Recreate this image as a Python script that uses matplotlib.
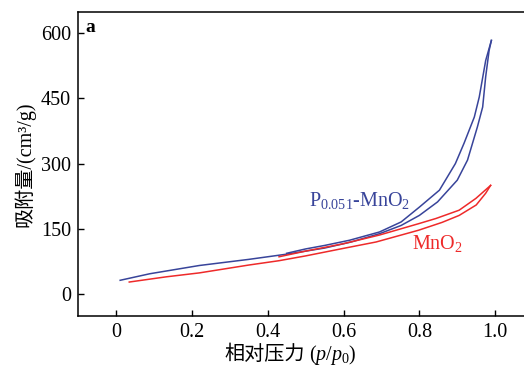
import matplotlib
matplotlib.use('Agg')
import matplotlib.pyplot as plt

plt.rcParams['font.family'] = ['Liberation Serif', 'Noto Sans CJK SC']
plt.rcParams['mathtext.fontset'] = 'custom'
plt.rcParams['mathtext.rm'] = 'Liberation Serif'
plt.rcParams['mathtext.it'] = 'Liberation Serif:italic'
plt.rcParams['axes.unicode_minus'] = False

# P0.051-MnO2 isotherm: adsorption branch then desorption branch
p_ads = [0.011, 0.089, 0.22, 0.35, 0.45, 0.55, 0.62, 0.695, 0.752, 0.80, 0.848,
         0.90, 0.927, 0.953, 0.967, 0.975, 0.984, 0.99]
v_ads = [32, 47, 66, 80, 92, 106, 120, 139, 158, 181, 212,
         262, 308, 384, 430, 500, 560, 583]
p_des = [0.99, 0.975, 0.958, 0.945, 0.918, 0.895, 0.853, 0.80, 0.752, 0.695,
         0.616, 0.55, 0.50, 0.45]
v_des = [583, 537, 453, 407, 347, 300, 239, 200, 166, 143,
         124, 112, 104, 94]

# MnO2 isotherm
m_ads = [0.035, 0.133, 0.22, 0.35, 0.43, 0.50, 0.598, 0.686, 0.798, 0.86,
         0.905, 0.95, 0.975, 0.988]
n_ads = [28, 40, 49, 67, 77, 88, 105, 120, 147, 165,
         181, 205, 232, 250]
m_des = [0.988, 0.949, 0.905, 0.844, 0.798, 0.695, 0.60, 0.50, 0.43]
n_des = [250, 220, 193, 174, 162, 136, 116, 99, 86]

blue = '#38449a'
red = '#ee2a2a'

fig = plt.figure(figsize=(5.24, 3.67), dpi=100)
ax = fig.add_axes([0.149, 0.139, 0.851, 0.828])

ax.plot(p_ads, v_ads, color=blue, lw=1.1)
ax.plot(p_des, v_des, color=blue, lw=1.1)
ax.plot(m_ads, n_ads, color=red, lw=1.1)
ax.plot(m_des, n_des, color=red, lw=1.1)

ax.set_xlim(-0.1, 1.076)
ax.set_ylim(-50, 648)
ax.set_xticks([0, 0.2, 0.4, 0.6, 0.8, 1.0])
ax.set_xticklabels(['0', '0.2', '0.4', '0.6', '0.8', '1.0'])
ax.set_yticks([0, 150, 300, 450, 600])
ax.tick_params(direction='in', length=4, width=1, labelsize=14.5, pad=5)
for s in ['left', 'top', 'bottom']:
    ax.spines[s].set_linewidth(1.1)
ax.spines['right'].set_visible(False)

# x label in two pieces so the CJK part keeps its font fallback
ax.text(0.508, -0.128, '相对压力', transform=ax.transAxes, fontsize=14.5,
        ha='right', va='center')
ax.text(0.518, -0.128, '($p$/$p_0$)', transform=ax.transAxes, fontsize=14.5,
        ha='left', va='center')
ax.set_ylabel('吸附量/(cm³/g)', fontsize=14.5, labelpad=4)

ax.text(0.51, 216, r'$\mathregular{P_{0.051}}$-MnO$_2$', color=blue, fontsize=14.5,
        va='center', ha='left')
ax.text(0.78, 117, r'MnO$_2$', color=red, fontsize=14.5, va='center', ha='left')
ax.text(-0.08, 612, 'a', fontsize=14, fontweight='bold', va='center', ha='left')

fig.savefig('out.png', dpi=100)
